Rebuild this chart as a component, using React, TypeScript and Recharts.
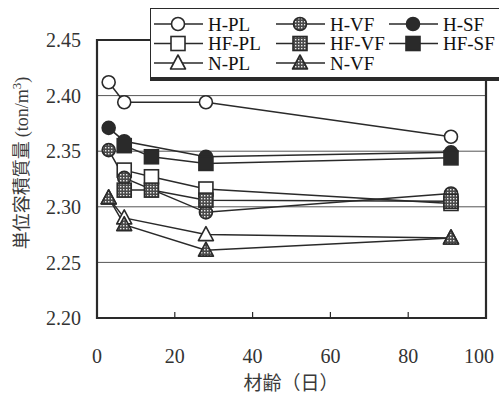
import React from 'react';
import {
  LineChart,
  Line,
  XAxis,
  YAxis,
  CartesianGrid,
  ReferenceArea,
  Legend,
} from 'recharts';

// days (x) and unit mass (ton/m3)
const hDays = [3, 7, 28, 91];
const hfDays = [7, 14, 28, 91];
const nDays = [3, 7, 28, 91];

const hPL = [2.412, 2.394, 2.394, 2.363];
const hVF = [2.351, 2.326, 2.295, 2.312];
const hSF = [2.371, 2.359, 2.345, 2.349];
const hfPL = [2.333, 2.327, 2.316, 2.303];
const hfVF = [2.315, 2.315, 2.306, 2.305];
const hfSF = [2.355, 2.345, 2.339, 2.344];
const nPL = [2.308, 2.290, 2.275, 2.272];
const nVF = [2.308, 2.284, 2.261, 2.272];

const xTicks = [0, 20, 40, 60, 80, 100];
const yTicks = [2.2, 2.25, 2.3, 2.35, 2.4, 2.45];

const INK = '#2a2a2a';
const SERIF = '"Liberation Serif", "DejaVu Serif", serif';
const CJK = '"Noto Sans CJK JP", "Noto Sans CJK SC", sans-serif';

type Kind = 'circle' | 'square' | 'tri';
type Fill = 'open' | 'hatch' | 'solid';

const toPoints = (days: number[], vals: number[]) =>
  days.map((x, i) => ({ x, y: vals[i] }));

const series = [
  { name: 'H-PL', kind: 'circle' as Kind, fill: 'open' as Fill, data: toPoints(hDays, hPL) },
  { name: 'HF-PL', kind: 'square' as Kind, fill: 'open' as Fill, data: toPoints(hfDays, hfPL) },
  { name: 'N-PL', kind: 'tri' as Kind, fill: 'open' as Fill, data: toPoints(nDays, nPL) },
  { name: 'H-VF', kind: 'circle' as Kind, fill: 'hatch' as Fill, data: toPoints(hDays, hVF) },
  { name: 'HF-VF', kind: 'square' as Kind, fill: 'hatch' as Fill, data: toPoints(hfDays, hfVF) },
  { name: 'N-VF', kind: 'tri' as Kind, fill: 'hatch' as Fill, data: toPoints(nDays, nVF) },
  { name: 'H-SF', kind: 'circle' as Kind, fill: 'solid' as Fill, data: toPoints(hDays, hSF) },
  { name: 'HF-SF', kind: 'square' as Kind, fill: 'solid' as Fill, data: toPoints(hfDays, hfSF) },
];

function fillOf(f: Fill) {
  if (f === 'open') return '#fff';
  if (f === 'solid') return INK;
  return 'url(#dots)';
}

function Marker({ cx, cy, kind, fill }: { cx: number; cy: number; kind: Kind; fill: Fill }) {
  const f = fillOf(fill);
  if (kind === 'circle') {
    return <circle cx={cx} cy={cy} r={6.5} fill={f} stroke={INK} strokeWidth={1.6} />;
  }
  if (kind === 'square') {
    return <rect x={cx - 7} y={cy - 7} width={14} height={14} fill={f} stroke={INK} strokeWidth={1.6} />;
  }
  const p = `${cx},${cy - 8} ${cx - 7.5},${cy + 6} ${cx + 7.5},${cy + 6}`;
  return <polygon points={p} fill={f} stroke={INK} strokeWidth={1.6} strokeLinejoin="round" />;
}

function PatternDefs() {
  return (
    <pattern id="dots" width="3" height="3" patternUnits="userSpaceOnUse">
      <rect width="3" height="3" fill="#4a4a4a" />
      <rect x="0" y="0" width="1.4" height="1.4" fill="#e8e8e8" />
    </pattern>
  );
}

// legend layout: three columns, rows H-PL/H-VF/H-SF etc.
const legendRows = [
  ['H-PL', 'H-VF', 'H-SF'],
  ['HF-PL', 'HF-VF', 'HF-SF'],
  ['N-PL', 'N-VF'],
];
const legendColX = [3, 125, 238];

// box runs off the right edge like in the scan, so no right border
function LegendBox() {
  return (
    <div
      style={{
        width: 360,
        height: 68,
        background: '#fff',
        borderTop: `1.5px solid ${INK}`,
        borderLeft: `1.5px solid ${INK}`,
        borderBottom: `1.5px solid ${INK}`,
        boxShadow: `0 3px 0 ${INK}`,
      }}
    >
      <svg width={360} height={68} style={{ display: 'block' }}>
        <defs>
          <PatternDefs />
        </defs>
        {legendRows.map((row, r) =>
          row.map((name, c) => {
            const s = series.find((d) => d.name === name)!;
            const x0 = legendColX[c];
            const y = 15 + r * 19.5;
            return (
              <g key={name}>
                <line x1={x0} x2={x0 + 49} y1={y} y2={y} stroke={INK} strokeWidth={1.6} />
                <Marker cx={x0 + 24} cy={y} kind={s.kind} fill={s.fill} />
                <text
                  x={x0 + 54}
                  y={y + 6.5}
                  fontFamily={SERIF}
                  fontSize={19}
                  fill="#111"
                >
                  {name}
                </text>
              </g>
            );
          })
        )}
      </svg>
    </div>
  );
}

function XTick(props: any) {
  const { x, y, payload } = props;
  const v = payload.value;
  return (
    <g>
      {v > 0 && v < 100 && (
        <line x1={x} x2={x} y1={y} y2={y - 6} stroke={INK} strokeWidth={1.2} />
      )}
      <text
        x={v === 100 ? x - 7 : x}
        y={y + 45}
        textAnchor="middle"
        fontFamily={SERIF}
        fontSize={20}
        fill="#333"
      >
        {v}
      </text>
    </g>
  );
}

function YLabel() {
  return (
    <text
      transform="translate(28,163) rotate(-90)"
      textAnchor="middle"
      fontSize={18}
      fill="#3a3a3a"
    >
      <tspan fontFamily={CJK} fill="#3a3a3a">単位容積質量 </tspan>
      <tspan fontFamily={SERIF} fill="#3a3a3a">(ton/m</tspan>
      <tspan fontFamily={SERIF} fill="#3a3a3a" fontSize={13} dy={-7}>3</tspan>
      <tspan fontFamily={SERIF} fill="#3a3a3a" dy={7}>)</tspan>
    </text>
  );
}

function XLabel() {
  return (
    <text x={291} y={390} textAnchor="middle" fontFamily={CJK} fontSize={19} fill="#3a3a3a">
      材齢（日）
    </text>
  );
}

export default function App() {
  return (
    <div style={{ position: 'absolute', left: 0, top: 0, width: 499, height: 394, background: '#fff', overflow: 'hidden' }}>
      <LineChart
        width={499}
        height={394}
        margin={{ top: 40, right: 13, bottom: 26, left: 0 }}
      >
        <defs>
          <PatternDefs />
        </defs>
        <CartesianGrid vertical={false} stroke="#555" strokeWidth={1} />
        <XAxis
          dataKey="x"
          type="number"
          domain={[0, 100]}
          ticks={xTicks}
          height={50}
          axisLine={false}
          tickLine={false}
          tickSize={0}
          tickMargin={0}
          tick={<XTick />}
          interval={0}
          label={{ content: () => <XLabel /> }}
        />
        <YAxis
          type="number"
          domain={[2.2, 2.45]}
          ticks={yTicks}
          width={97}
          axisLine={false}
          tickLine={false}
          tickSize={0}
          tickMargin={16}
          interval={0}
          tickFormatter={(v) => Number(v).toFixed(2)}
          tick={{ fontFamily: SERIF, fontSize: 20, fill: '#333' }}
          label={{ content: () => <YLabel /> }}
        />
        <ReferenceArea
          x1={0}
          x2={100}
          y1={2.2}
          y2={2.45}
          fill="none"
          stroke={INK}
          strokeWidth={2.2}
          ifOverflow="visible"
        />
        {series.map((s) => (
          <Line
            key={s.name}
            data={s.data}
            dataKey="y"
            name={s.name}
            stroke={INK}
            strokeWidth={1.5}
            isAnimationActive={false}
            dot={(p: any) => (
              <Marker key={`${s.name}-${p.index}`} cx={p.cx} cy={p.cy} kind={s.kind} fill={s.fill} />
            )}
            activeDot={false}
          />
        ))}
        <Legend
          layout="horizontal"
          verticalAlign="middle"
          align="center"
          wrapperStyle={{ top: 8, left: 150, width: 362, height: 72 }}
          content={() => <LegendBox />}
        />
      </LineChart>
    </div>
  );
}
